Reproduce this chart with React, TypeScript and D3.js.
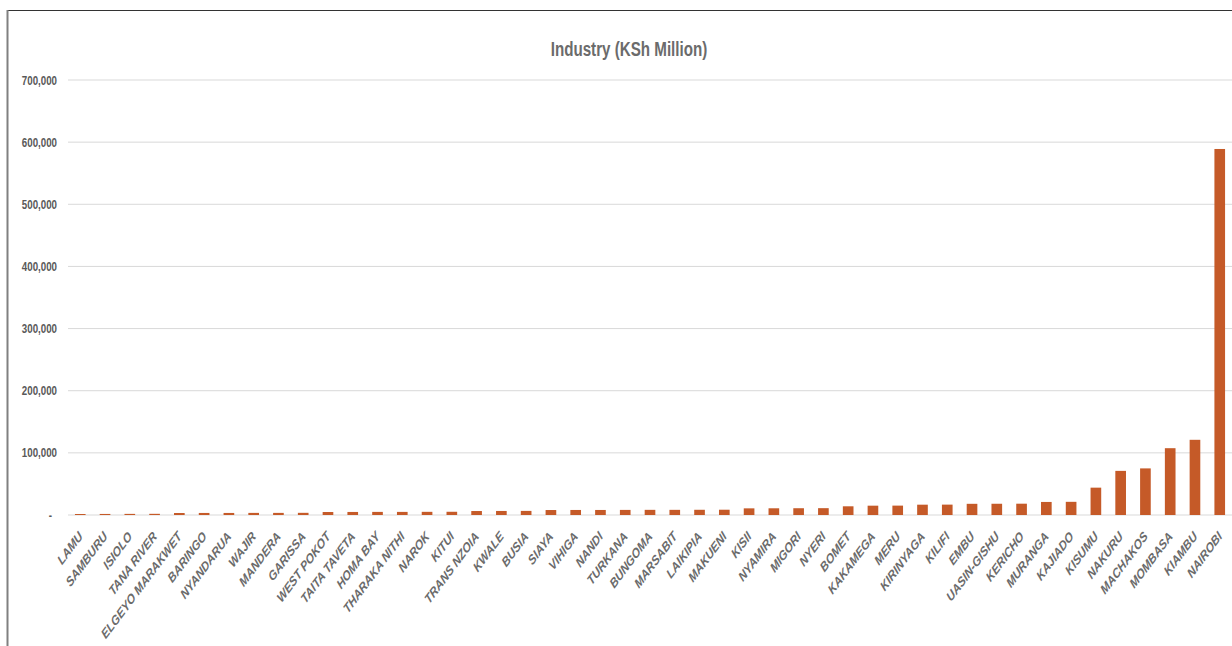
import React from "react";
import * as d3 from "d3";

const counties = ["LAMU","SAMBURU","ISIOLO","TANA RIVER","ELGEYO MARAKWET","BARINGO","NYANDARUA","WAJIR","MANDERA","GARISSA","WEST POKOT","TAITA TAVETA","HOMA BAY","THARAKA NITHI","NAROK","KITUI","TRANS NZOIA","KWALE","BUSIA","SIAYA","VIHIGA","NANDI","TURKANA","BUNGOMA","MARSABIT","LAIKIPIA","MAKUENI","KISII","NYAMIRA","MIGORI","NYERI","BOMET","KAKAMEGA","MERU","KIRINYAGA","KILIFI","EMBU","UASIN-GISHU","KERICHO","MURANGA","KAJIADO","KISUMU","NAKURU","MACHAKOS","MOMBASA","KIAMBU","NAIROBI"];
const industry = [1600,1700,1800,1900,3200,3300,3300,3400,3400,3500,4800,4900,5000,5000,5100,5200,6400,6500,6600,8000,8100,8100,8200,8300,8300,8400,8500,10700,10800,10900,11000,14000,15000,15100,16600,16700,18000,18100,18200,21000,21200,44000,71000,75000,107500,121000,589000];
const yTicks = [0,100000,200000,300000,400000,500000,600000,700000];
const title = "Industry (KSh Million)";

export default function App() {
  const W = 1232, H = 646;
  const left = 68, right = 1232, top = 80, bottom = 515;
  const x = d3.scaleBand().domain(counties).range([left, right]).paddingInner(0.57).paddingOuter(0.28);
  const y = d3.scaleLinear().domain([0, 700000]).range([bottom, top]);
  const fmt = d3.format(",");
  const font = "'Liberation Sans', Arial, sans-serif";
  return (
    <svg width={W} height={H} style={{ position: "absolute", left: 0, top: 0, background: "#fff" }}>
      <rect x={0} y={0} width={W} height={H} fill="#fff" />
      <line x1={7} x2={W} y1={10.5} y2={10.5} stroke="#333" strokeWidth={1} />
      <line x1={7.5} x2={7.5} y1={10} y2={H} stroke="#808080" strokeWidth={2} />
      <text transform={`translate(629,56) scale(0.74,1)`} textAnchor="middle" fontFamily={font} fontWeight="bold" fontSize={20.5} fill="#6b6b6b">{title}</text>
      {yTicks.map(t => (
        <g key={t}>
          <line x1={left} x2={right} y1={y(t)} y2={y(t)} stroke="#d9d9d9" strokeWidth={1} />
          <text transform={`translate(${t === 0 ? 52 : 57},${y(t) + 4.5}) scale(0.78,1)`} textAnchor="end" fontFamily={font} fontWeight="bold" fontSize={12.5} fill="#595959">{t === 0 ? "-" : fmt(t)}</text>
        </g>
      ))}
      {counties.map((c, i) => (
        <rect key={c} x={x(c)} y={y(industry[i])} width={x.bandwidth()} height={bottom - y(industry[i])} fill="#c55a28" />
      ))}
      {counties.map(c => {
        const cx = (x(c) as number) + x.bandwidth() / 2 + 3;
        return (
          <text key={c} transform={`translate(${cx},${537}) scale(0.8,1) rotate(-47)`} textAnchor="end" fontFamily={font} fontWeight="bold" fontStyle="italic" fontSize={13.5} fill="#6b6b6b">{c}</text>
        );
      })}
    </svg>
  );
}
